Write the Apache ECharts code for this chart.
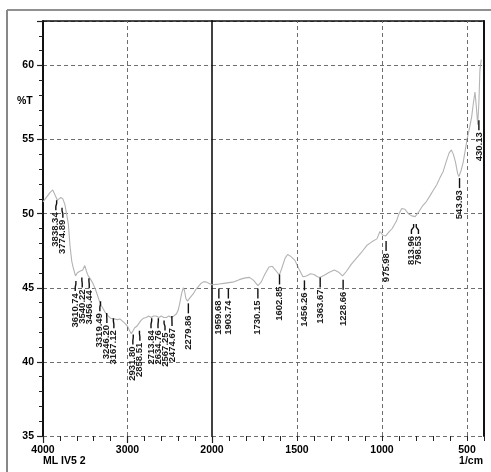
<!DOCTYPE html>
<html>
<head>
<meta charset="utf-8">
<script src="https://cdn.jsdelivr.net/npm/echarts@6/dist/echarts.min.js"></script>
<style>
html,body{margin:0;padding:0;background:#fff;}
#chart{width:491px;height:472px;}
</style>
</head>
<body>
<div id="chart"></div>
<script>
// ---- Data: high-wavenumber segment (4000-2000 cm-1), %T ----
const wavesHigh = [4000,3960,3920,3885,3860,3830,3810,3790,3765,3740,3715,3700,3680,3660,3640,3615,3595,3570,3550,3530,3505,3485,3465,3440,3410,3380,3350,3320,3290,3260,3230,3200,3160,3120,3090,3060,3030,3000,2975,2955,2935,2915,2890,2870,2840,2810,2780,2750,2720,2690,2660,2630,2600,2570,2540,2510,2480,2450,2420,2400,2380,2360,2340,2325,2310,2290,2270,2250,2220,2190,2160,2130,2100,2070,2040,2000];
const transHigh = [50.8,51.1,51.4,51.6,51.3,50.9,50.95,51.1,51.0,50.6,49.8,49.3,47.8,46.8,46.3,45.8,46.0,46.1,46.0,46.2,46.5,46.1,45.8,45.6,45.3,44.9,44.4,43.9,43.6,43.3,43.1,42.95,42.9,42.85,42.9,42.75,42.6,42.4,42.1,41.9,42.0,42.3,42.4,42.5,42.8,42.95,43.0,43.1,43.0,43.1,43.1,43.0,43.1,43.0,43.0,43.1,43.0,43.1,43.25,43.5,44.0,44.6,45.0,44.8,44.3,44.1,44.2,44.4,44.6,44.9,45.1,45.3,45.4,45.4,45.3,45.2];

// ---- Data: low-wavenumber segment (2000-400 cm-1), %T ----
const wavesLow = [2000,1960,1930,1900,1870,1840,1810,1780,1755,1730,1710,1690,1665,1645,1620,1604,1590,1570,1555,1535,1512,1490,1465,1445,1420,1400,1380,1365,1340,1310,1280,1255,1232,1210,1180,1150,1120,1090,1060,1030,1012,995,978,960,940,915,900,884,865,845,825,805,785,760,740,718,700,678,660,640,620,605,592,580,568,555,548,535,522,510,500,485,473,462,453,445,437,430,424,416];
const transLow = [45.2,45.25,45.3,45.35,45.4,45.55,45.65,45.7,45.5,45.15,45.4,45.9,46.4,46.45,46.1,45.85,46.3,47.0,47.25,47.1,46.85,46.3,45.75,45.8,45.95,45.9,45.75,45.7,45.85,46.05,46.2,46.05,45.8,46.1,46.6,47.0,47.4,47.85,48.1,48.3,48.8,48.55,48.5,48.75,49.0,49.5,50.0,50.35,50.3,50.0,49.85,49.8,50.1,50.55,50.8,51.2,51.55,51.95,52.4,52.85,53.6,54.1,54.3,54.0,53.5,52.7,52.5,52.9,53.5,54.3,55.0,55.8,56.5,57.5,58.2,57.2,56.0,57.5,59.7,60.4];

// ---- Peak annotations ----
const peakNames = ['3838.34','3774.89','3610.74','3540.22','3456.44','3319.49','3246.20','3167.12','2931.80','2858.51','2713.84','2634.76','2567.25','2474.67','2279.86','1959.68','1903.74','1730.15','1602.85','1456.26','1363.67','1228.66','975.98','813.96','798.53','543.93','430.13'];
const peakWaves = [3838.34,3774.89,3610.74,3540.22,3456.44,3319.49,3246.20,3167.12,2931.80,2858.51,2713.84,2634.76,2567.25,2474.67,2279.86,1959.68,1903.74,1730.15,1602.85,1456.26,1363.67,1228.66,975.98,813.96,798.53,543.93,430.13];
const peakLevels = [50.9,50.4,45.45,45.7,45.65,44.1,43.3,42.95,41.85,42.1,42.95,42.95,42.8,43.1,43.95,44.95,44.95,44.95,45.9,45.5,45.7,45.55,48.15,49.3,49.3,52.4,56.3];

// ---- Axis tick labels ----
const yTicks = [35,40,45,50,55,60];
const xMajorHigh = [4000,3000,2000];
const xMajorLow = [1500,1000,500];

const FONT = "'Liberation Sans', Arial, sans-serif";
const GRID_COLOR = '#6e6e6e';

const chart = echarts.init(document.getElementById('chart'), null, {renderer:'canvas'});

function buildPeakData(hi) {
  const out = [];
  for (let i = 0; i < peakWaves.length; i++) {
    if ((peakWaves[i] >= 2000) === hi) out.push([peakWaves[i], peakLevels[i], i]);
  }
  return out;
}

// Spread overlapping label columns apart (simple clustering)
function spread(xs, gap) {
  const order = xs.map((x, i) => i).sort((a, b) => xs[a] - xs[b]);
  const sorted = order.map(i => xs[i]);
  let clusters = sorted.map((x, i) => ({s: i, e: i, c: x}));
  let changed = true;
  while (changed) {
    changed = false;
    for (let k = 1; k < clusters.length; k++) {
      const a = clusters[k - 1], b = clusters[k];
      const aEnd = a.c + (a.e - a.s) * gap / 2;
      const bStart = b.c - (b.e - b.s) * gap / 2;
      if (bStart - aEnd < gap) {
        let sum = 0;
        for (let i = a.s; i <= b.e; i++) sum += sorted[i];
        clusters.splice(k - 1, 2, {s: a.s, e: b.e, c: sum / (b.e - a.s + 1)});
        changed = true;
        break;
      }
    }
  }
  const res = new Array(xs.length);
  clusters.forEach(cl => {
    const n = cl.e - cl.s + 1;
    for (let i = cl.s; i <= cl.e; i++) {
      res[order[i]] = cl.c + (i - cl.s - (n - 1) / 2) * gap;
    }
  });
  return res;
}

function makeRenderItem(dataArr) {
  return function (params, api) {
    const pts = dataArr.map(d => api.coord([d[0], d[1]]));
    const txs = spread(pts.map(p => p[0]), 7);
    const i = params.dataIndex;
    const p = pts[i];
    const tx = txs[i];
    const name = peakNames[dataArr[i][2]];
    const len = 10;
    return {
      type: 'group',
      children: [
        {type: 'polyline', shape: {points: [[p[0], p[1]], [p[0], p[1] + 3], [tx, p[1] + 6], [tx, p[1] + len]]},
         style: {stroke: '#111', lineWidth: 1.4, fill: null}},
        {type: 'text', x: tx, y: p[1] + len + 2, rotation: Math.PI / 2,
         style: {text: name, fill: '#1a1a1a', fontSize: 9.5, fontFamily: FONT, fontWeight: 'bold',
                 align: 'right', verticalAlign: 'middle'}}
      ]
    };
  };
}

const peaksHigh = buildPeakData(true);
const peaksLow = buildPeakData(false);

const dashed = {type: [4, 3], color: GRID_COLOR, width: 1};

const option = {
  animation: false,
  backgroundColor: '#fff',
  grid: [
    {left: 43, top: 21, width: 169, height: 415},
    {left: 212, top: 21, width: 272, height: 415}
  ],
  xAxis: [
    {gridIndex: 0, type: 'value', min: 2000, max: 4000, interval: 1000, inverse: true, position: 'bottom',
     axisLine: {show: false},
     axisTick: {show: true, length: 7, lineStyle: {color: '#222', width: 1.2}},
     minorTick: {show: true, splitNumber: 5, length: 5, lineStyle: {color: '#222', width: 1}},
     splitLine: {show: false},
     axisLabel: {show: true, margin: 9, color: '#000', fontSize: 10.5, fontFamily: FONT, fontWeight: 'bold',
                 showMinLabel: true, showMaxLabel: true,
                 formatter: v => xMajorHigh.indexOf(v) >= 0 ? String(v) : ''}},
    {gridIndex: 1, type: 'value', min: 400, max: 2000, interval: 100, inverse: true, position: 'bottom',
     axisLine: {show: false},
     axisTick: {show: true, length: 5, lineStyle: {color: '#222', width: 1}},
     splitLine: {show: false},
     axisLabel: {show: true, margin: 9, color: '#000', fontSize: 10.5, fontFamily: FONT, fontWeight: 'bold',
                 showMinLabel: true, showMaxLabel: true,
                 formatter: v => xMajorLow.indexOf(v) >= 0 ? String(v) : ''}},
    {gridIndex: 0, type: 'value', min: 2000, max: 4000, inverse: true, position: 'top',
     axisLine: {show: true, lineStyle: {color: '#111', width: 1.5}},
     axisTick: {show: false}, axisLabel: {show: false}, splitLine: {show: false}},
    {gridIndex: 1, type: 'value', min: 400, max: 2000, inverse: true, position: 'top',
     axisLine: {show: true, lineStyle: {color: '#111', width: 1.5}},
     axisTick: {show: false}, axisLabel: {show: false}, splitLine: {show: false}}
  ],
  yAxis: [
    {gridIndex: 0, type: 'value', min: 35, max: 63, interval: 5, position: 'left',
     axisLine: {show: true, lineStyle: {color: '#111', width: 2}},
     axisTick: {show: true, length: 6, lineStyle: {color: '#222', width: 1.2}},
     minorTick: {show: true, splitNumber: 5, length: 4, lineStyle: {color: '#222', width: 1}},
     splitLine: {show: true, lineStyle: dashed},
     axisLabel: {show: true, margin: 9, color: '#000', fontSize: 10.5, fontFamily: FONT, fontWeight: 'bold',
                 showMaxLabel: false,
                 formatter: v => yTicks.indexOf(v) >= 0 ? String(v) : ''}},
    {gridIndex: 1, type: 'value', min: 35, max: 63, interval: 5, position: 'left',
     axisLine: {show: true, lineStyle: {color: '#111', width: 1.6}},
     axisTick: {show: false}, axisLabel: {show: false},
     splitLine: {show: true, lineStyle: dashed}},
    {gridIndex: 1, type: 'value', min: 35, max: 63, position: 'right',
     axisLine: {show: true, lineStyle: {color: '#111', width: 2}},
     axisTick: {show: false}, axisLabel: {show: false}, splitLine: {show: false}}
  ],
  series: [
    {type: 'line', xAxisIndex: 0, yAxisIndex: 0, showSymbol: false, symbol: 'none',
     data: wavesHigh.map((w, i) => [w, transHigh[i]]),
     lineStyle: {color: '#b3b3b3', width: 1.1}, z: 3,
     markLine: {silent: true, symbol: ['none', 'none'], label: {show: false}, lineStyle: dashed,
                data: [{xAxis: 3000}]}},
    {type: 'line', xAxisIndex: 1, yAxisIndex: 1, showSymbol: false, symbol: 'none',
     data: wavesLow.map((w, i) => [w, transLow[i]]),
     lineStyle: {color: '#b3b3b3', width: 1.1}, z: 3,
     markLine: {silent: true, symbol: ['none', 'none'], label: {show: false}, lineStyle: dashed,
                data: xMajorLow.map(v => ({xAxis: v}))}},
    {type: 'custom', xAxisIndex: 0, yAxisIndex: 0, data: peaksHigh, renderItem: makeRenderItem(peaksHigh), z: 4, clip: false},
    {type: 'custom', xAxisIndex: 1, yAxisIndex: 1, data: peaksLow, renderItem: makeRenderItem(peaksLow), z: 4, clip: false}
  ],
  graphic: [
    {type: 'line', shape: {x1: 7, y1: 10, x2: 491, y2: 10}, style: {stroke: '#222', lineWidth: 1.2}},
    {type: 'line', shape: {x1: 7, y1: 10, x2: 7, y2: 472}, style: {stroke: '#888', lineWidth: 2}},
    {type: 'text', left: 17, top: 96, style: {text: '%T', fill: '#000', fontSize: 10.5, fontFamily: FONT, fontWeight: 'bold'}},
    {type: 'text', left: 43, top: 456, style: {text: 'ML IV5 2', fill: '#000', fontSize: 10.5, fontFamily: FONT, fontWeight: 'bold'}},
    {type: 'text', right: 8, top: 456, style: {text: '1/cm', fill: '#000', fontSize: 10.5, fontFamily: FONT, fontWeight: 'bold'}}
  ]
};
chart.setOption(option);
</script>
</body>
</html>
